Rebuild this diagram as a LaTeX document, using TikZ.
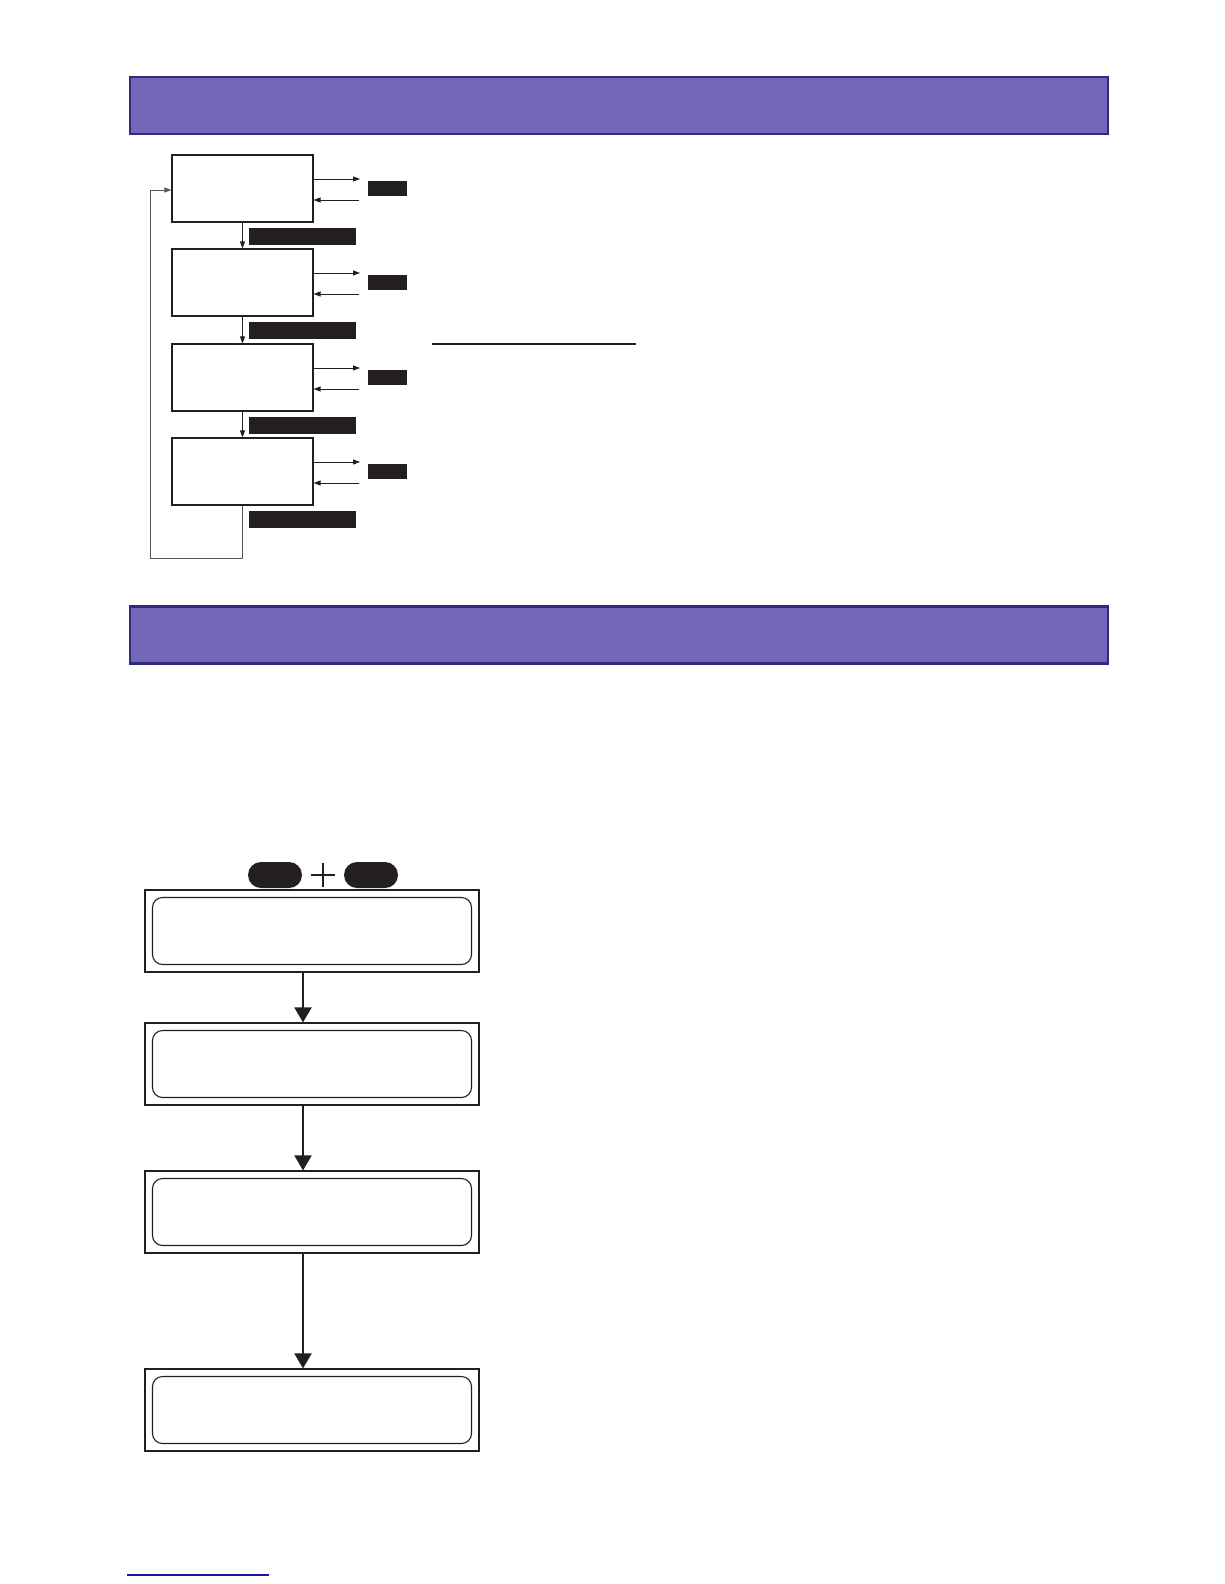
\documentclass[tikz,border=0pt]{standalone}
\usepackage{tikz}
\usetikzlibrary{positioning,arrows.meta}
\definecolor{bandfill}{RGB}{115,102,184}
\definecolor{bandline}{RGB}{46,42,125}
\definecolor{ink}{RGB}{35,31,32}
\definecolor{rule}{RGB}{26,26,160}

\tikzset{
  band/.style={draw=bandline, line width=2.5pt, fill=bandfill, minimum width=978pt, minimum height=57pt, inner sep=0pt},
  stagebox/.style={draw=ink, line width=1.1pt, minimum width=141pt, minimum height=67pt, inner sep=0pt},
  tagbox/.style={fill=ink, minimum width=39pt, minimum height=15pt, inner sep=0pt},
  keybox/.style={fill=ink, minimum width=107pt, minimum height=17pt, inner sep=0pt},
  flow/.style={draw=ink, line width=0.9pt, -{Triangle[length=7pt,width=5pt]}},
  loopline/.style={draw=ink!75, line width=0.9pt, -{Triangle[length=7pt,width=5pt]}},
  panel/.style={draw=ink, line width=1.1pt, minimum width=334pt, minimum height=82pt, inner sep=0pt},
  screen/.style={draw=ink, line width=1.1pt, rounded corners=10pt, minimum width=319pt, minimum height=67pt, inner sep=0pt},
  pill/.style={fill=ink, rounded corners=13pt, minimum width=54pt, minimum height=26pt, inner sep=0pt},
  bigflow/.style={draw=ink, line width=2pt, -{Triangle[length=15pt,width=17pt]}}
}

\begin{document}
\begin{tikzpicture}[x=1pt,y=-1pt]
    \useasboundingbox (0,0) rectangle (1224,1584);

    % Section headers
    \node[band] (head1) at (619,105.5) {};
    \node[band] (head2) at (619,635) {};

    % Menu cycle with side keys
    \foreach \i/\y in {1/188.5,2/282.5,3/377.5,4/471.5}{
        \node[stagebox] (stage\i) at (242.5,\y) {};
        \node[tagbox] (tag\i) at (387,\y) {};
        \node[keybox, below right=5pt and 6.5pt of stage\i.south] (key\i) {};
        \coordinate (out\i) at (360,\y-9.5);
        \coordinate (in\i) at (359,\y+11.5);
        \draw[flow] (stage\i.east |- out\i) -- (out\i);
        \draw[flow] (in\i) -- (in\i -| stage\i.east);
    }
    \foreach \i/\j in {1/2,2/3,3/4}
        \draw[flow] (stage\i.south) -- (stage\j.north);

    % Return to the first stage
    \coordinate (loopturn) at (150,558);
    \draw[loopline] (stage4.south) |- (loopturn) |- ([yshift=-1.5pt]stage1.west);

    % Heading rule
    \coordinate (rulestart) at (432,344);
    \coordinate (ruleend) at (636,344);
    \draw[ink, line width=2pt] (rulestart) -- (ruleend);

    % Key combination
    \node[pill] (keyA) at (275,875) {};
    \node[pill] (keyB) at (371,875) {};
    \coordinate (plus) at (323,875);
    \draw[ink, line width=1.5pt] ([xshift=-12pt]plus) -- ([xshift=12pt]plus)
        ([yshift=-12pt]plus) -- ([yshift=12pt]plus);

    % Display sequence
    \foreach \i/\y in {1/931,2/1064,3/1212,4/1410}{
        \node[panel] (panel\i) at (312,\y) {};
        \node[screen] (screen\i) at (panel\i) {};
    }
    \foreach \i/\j in {1/2,2/3,3/4}
        \draw[bigflow] ([xshift=-9pt]panel\i.south) -- ([xshift=-9pt]panel\j.north);

    % Footer rule
    \draw[rule, line width=1.3pt] (127,1575) -- (269,1575);
\end{tikzpicture}
\end{document}
